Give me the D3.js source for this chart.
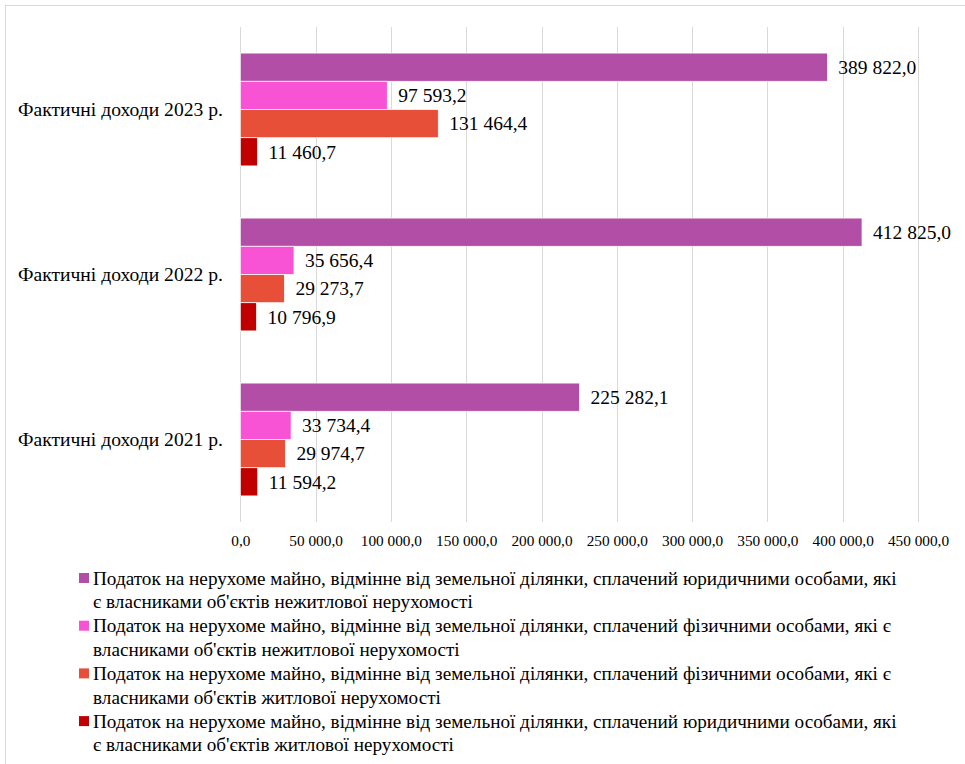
<!DOCTYPE html>
<html>
<head>
<meta charset="utf-8">
<script src="https://cdn.jsdelivr.net/npm/d3@7"></script>
<style>
  html, body { margin: 0; padding: 0; background: #fff; }
  svg, svg text { font-family: "Liberation Serif", "Times New Roman", Times, serif; }
</style>
</head>
<body>
<svg id="chart" width="965" height="764"></svg>
<script>
// ---- data ----
const categories = ["Фактичні доходи 2023 р.", "Фактичні доходи 2022 р.", "Фактичні доходи 2021 р."];
const seriesNames = [
  "Податок на нерухоме майно, відмінне від земельної ділянки, сплачений юридичними особами, які\nє власниками об'єктів нежитлової нерухомості",
  "Податок на нерухоме майно, відмінне від земельної ділянки, сплачений фізичними особами, які є\nвласниками об'єктів нежитлової нерухомості",
  "Податок на нерухоме майно, відмінне від земельної ділянки, сплачений фізичними особами, які є\nвласниками об'єктів житлової нерухомості",
  "Податок на нерухоме майно, відмінне від земельної ділянки, сплачений юридичними особами, які\nє власниками об'єктів житлової нерухомості"
];
const legalNonResidential = [389822.0, 412825.0, 225282.1];
const personNonResidential = [97593.2, 35656.4, 33734.4];
const personResidential = [131464.4, 29273.7, 29974.7];
const legalResidential = [11460.7, 10796.9, 11594.2];
const tickValues = [0, 50000, 100000, 150000, 200000, 250000, 300000, 350000, 400000, 450000];
const colors = ["#B24EA6", "#F852D5", "#E84F38", "#C00000"];

const seriesValues = [legalNonResidential, personNonResidential, personResidential, legalResidential];

// ---- setup ----
const FONT = '"Liberation Serif", "Times New Roman", Times, serif';
const svg = d3.select("#chart");
const uk = d3.formatLocale({decimal: ",", thousands: " ", grouping: [3], currency: ["", ""]});
const fmt = uk.format(",.1f");

// outer border
svg.append("rect")
  .attr("x", 5.5).attr("y", 5.5).attr("width", 1000).attr("height", 1000)
  .attr("fill", "none").attr("stroke", "#d9d9d9").attr("stroke-width", 1);

const plotLeft = 240.3, plotRight = 918, plotTop = 27, plotBottom = 522;

const x = d3.scaleLinear().domain([0, 450000]).range([plotLeft, plotRight]);
const y0 = d3.scaleBand().domain(categories).range([plotTop, plotBottom]).paddingInner(0.316).paddingOuter(0.158);
const y1 = d3.scaleBand().domain(d3.range(seriesNames.length)).range([0, y0.bandwidth()]);

// gridlines
svg.append("g").selectAll("line").data(tickValues).join("line")
  .attr("x1", d => Math.round(x(d)) + 0.5).attr("x2", d => Math.round(x(d)) + 0.5)
  .attr("y1", plotTop).attr("y2", plotBottom)
  .attr("stroke", "#d9d9d9").attr("stroke-width", 1);

// x axis labels
const xAxis = d3.axisBottom(x).tickValues(tickValues).tickFormat(fmt).tickSize(0).tickPadding(0);
const gx = svg.append("g").attr("transform", `translate(0,${plotBottom + 13})`).call(xAxis);
gx.attr("font-family", FONT);
gx.select(".domain").remove();
gx.selectAll("text").attr("font-size", 15.3).style("font-family", FONT).attr("fill", "#000");

// category labels
svg.append("g").selectAll("text").data(categories).join("text")
  .attr("x", 18).attr("y", d => y0(d) - y0.step() * 0.158 + y0.step() / 2)
  .attr("dy", "0.35em")
  .style("font-family", FONT)
  .attr("font-size", 19.6).attr("fill", "#000")
  .text(d => d);

// bars
const groups = svg.append("g").selectAll("g").data(categories).join("g")
  .attr("transform", d => `translate(0,${y0(d)})`);

groups.each(function(cat, ci) {
  const g = d3.select(this);
  const rows = seriesValues.map((arr, si) => ({si, v: arr[ci]}));
  g.selectAll("rect").data(rows).join("rect")
    .attr("x", x(0)).attr("y", d => y1(d.si))
    .attr("width", d => x(d.v) - x(0)).attr("height", y1.bandwidth())
    .attr("fill", d => colors[d.si])
    .attr("stroke", "#fff").attr("stroke-width", 0.75);
  g.selectAll("text").data(rows).join("text")
    .attr("x", d => x(d.v) + 11).attr("y", d => y1(d.si) + y1.bandwidth() / 2)
    .attr("dy", "0.35em").attr("font-size", 19.5).attr("fill", "#000")
    .style("font-family", FONT)
    .text(d => fmt(d.v));
});

// legend
const legendTop = 578, entryStep = 47.7, lineStep = 23.6;
const lg = svg.append("g").selectAll("g").data(seriesNames).join("g")
  .attr("transform", (d, i) => `translate(0,${legendTop + i * entryStep})`);
lg.append("rect").attr("x", 79).attr("y", -5).attr("width", 10).attr("height", 10)
  .attr("fill", (d, i) => colors[i]);
lg.each(function(name) {
  const t = d3.select(this).append("text").attr("x", 93).attr("font-size", 19.2).attr("fill", "#000")
    .style("font-family", FONT);
  name.split("\n").forEach((line, li) => {
    t.append("tspan").attr("x", 93).attr("y", li * lineStep).attr("dy", "0.35em").text(line);
  });
});
</script>
</body>
</html>
